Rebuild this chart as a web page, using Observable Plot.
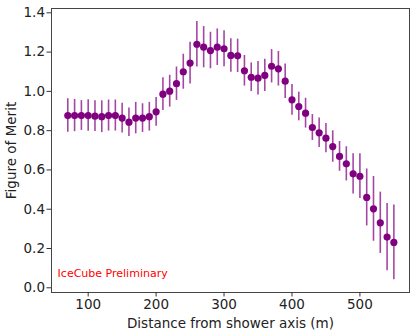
<!DOCTYPE html>
<html><head><meta charset="utf-8">
<script src="https://cdn.jsdelivr.net/npm/d3@7"></script>
<script src="https://cdn.jsdelivr.net/npm/@observablehq/plot@0.6"></script>
<style>body{margin:0;background:#fff}</style>
</head><body><div id="chart"></div>
<script>
const distance = [70,80,90,100,110,120,130,140,150,160,170,180,190,200,210,220,230,240,250,260,270,280,290,300,310,320,330,340,350,360,370,380,390,400,410,420,430,440,450,460,470,480,490,500,510,520,530,540,550];
const merit = [0.877,0.877,0.877,0.877,0.874,0.871,0.877,0.877,0.864,0.843,0.864,0.864,0.871,0.896,0.986,1.001,1.039,1.100,1.144,1.240,1.225,1.208,1.225,1.217,1.183,1.181,1.105,1.072,1.067,1.081,1.128,1.115,1.052,0.957,0.923,0.889,0.816,0.789,0.762,0.719,0.669,0.631,0.580,0.568,0.460,0.402,0.331,0.258,0.231];
const meritErr = [0.085,0.082,0.076,0.080,0.078,0.081,0.079,0.079,0.076,0.073,0.080,0.073,0.073,0.073,0.083,0.081,0.085,0.089,0.106,0.116,0.105,0.093,0.093,0.092,0.085,0.085,0.078,0.073,0.085,0.082,0.085,0.088,0.088,0.078,0.073,0.076,0.066,0.075,0.075,0.080,0.076,0.087,0.102,0.114,0.145,0.165,0.156,0.171,0.190];
const xTicks = [100,200,300,400,500];
const yTicks = [0,0.2,0.4,0.6,0.8,1.0,1.2,1.4];
const xLabel = "Distance from shower axis (m)";
const yLabel = "Figure of Merit";
const annotation = ["IceCube Preliminary"];

const data = distance.map((d,i)=>({d, m:merit[i], lo:merit[i]-meritErr[i], hi:merit[i]+meritErr[i]}));

const chart = Plot.plot({
  width:416, height:334,
  marginLeft:51, marginRight:7, marginTop:8, marginBottom:42,
  style:{fontFamily:"DejaVu Sans", fontSize:"14px", color:"#222", background:"#fff"},
  x:{domain:[46,573]},
  y:{domain:[-0.024,1.422]},
  marks:[
    Plot.ruleX(data,{x:"d", y1:"lo", y2:"hi", stroke:"purple", strokeOpacity:0.72, strokeWidth:1.6}),
    Plot.dot(data,{x:"d", y:"m", r:3.6, fill:"purple", stroke:"none"}),
    Plot.text(annotation,{x:55, y:0.073, text:d=>d, textAnchor:"start", fill:"red", fontSize:11}),
    Plot.frame({stroke:"#444", strokeWidth:1}),
    Plot.axisX(xTicks,{tickSize:4.5, tickPadding:2.5, fontSize:13.5, stroke:"#333", label:xLabel, labelAnchor:"center", labelArrow:"none", labelOffset:35}),
    Plot.axisY(yTicks,{tickSize:4.5, tickPadding:2, fontSize:13.5, stroke:"#333", tickFormat:d3.format(".1f"), label:yLabel, labelAnchor:"center", labelArrow:"none", labelOffset:45})
  ]
});
document.getElementById("chart").appendChild(chart);
</script>
</body></html>
